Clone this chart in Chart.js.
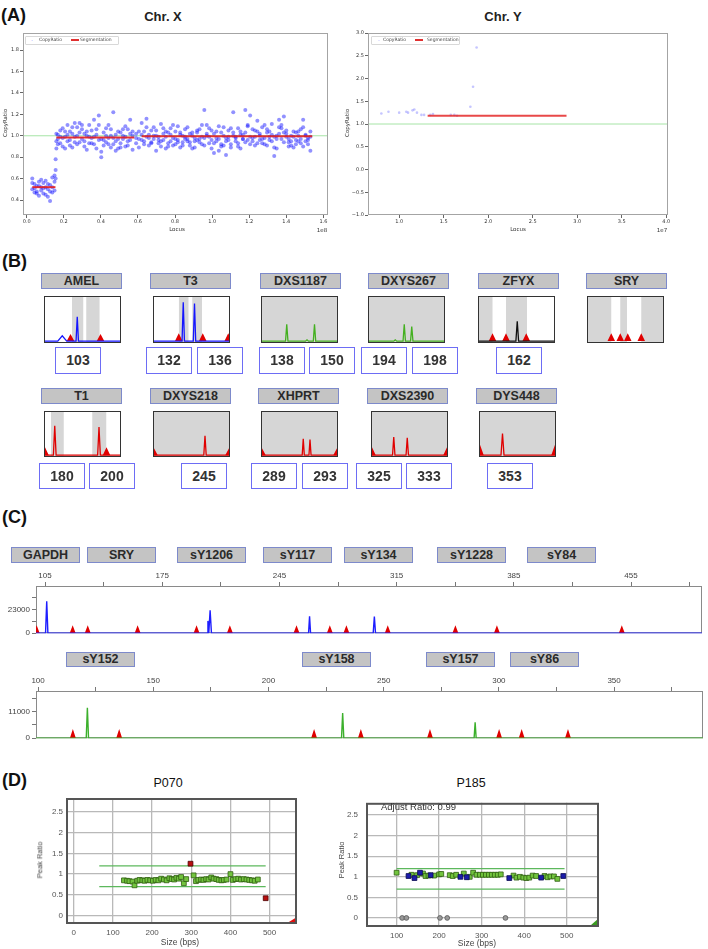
<!DOCTYPE html>
<html><head><meta charset="utf-8">
<script src="https://cdn.jsdelivr.net/npm/chart.js@4.4.1/dist/chart.umd.min.js"></script>
<style>
html,body{margin:0;padding:0;background:#fff;}
body{width:708px;height:949px;position:relative;overflow:hidden;font-family:"Liberation Sans",Arial,sans-serif;}
.lbl{position:absolute;box-sizing:border-box;background:#c4c4c4;border:1px solid #7d8acb;font-weight:bold;font-size:12.5px;color:#2a2a2a;text-align:center;}
.num{position:absolute;box-sizing:border-box;background:#fff;border:1.5px solid #6d6df5;font-weight:bold;font-size:14px;color:#333;text-align:center;}
.box{position:absolute;box-sizing:border-box;border:1.5px solid #333;background:transparent;}
</style></head><body>
<script>
// ================= DATA =================
// Panel A – Chr. X copy ratio (locus in Mb, ratio x100, three read-outs per locus)
const chrXLocusMb = [
 3.0,4.2,5.4,6.6,7.8,9.0,10.2,11.4,12.6,13.8,15.0,
 15.6,16.0,
 16.8,18.1,19.4,20.7,22.0,23.3,24.6,25.9,27.2,28.5,29.8,31.1,32.4,33.7,35.0,36.3,37.6,38.9,40.2,41.5,42.8,44.1,45.4,46.7,48.0,49.3,50.6,51.9,53.2,54.5,55.8,57.1,
 59.0,60.5,
 62.0,63.3,64.6,65.9,67.2,68.5,69.8,71.1,72.4,73.7,75.0,76.3,77.6,78.9,80.2,81.5,82.8,84.1,85.4,86.7,88.0,89.3,90.6,91.9,93.2,94.5,95.8,97.1,98.4,99.7,
 101.0,102.3,103.6,104.9,106.2,107.5,108.8,110.1,111.4,112.7,114.0,115.3,116.6,117.9,119.2,120.5,121.8,123.1,124.4,125.7,127.0,128.3,129.6,130.9,132.2,133.5,
 134.8,136.1,137.4,138.7,140.0,141.3,142.6,143.9,145.2,146.5,147.8,149.1,150.4,151.7,153.0];
const chrXRatioPctA = [
 50,55,48,57,52,46,58,50,54,61,49,
 68,88,
 92,105,98,88,110,96,102,94,108,112,97,90,104,99,93,115,101,119,85,96,107,92,100,122,95,88,103,97,109,91,115,100,
 93,97,
 112,95,116,101,93,108,86,99,111,96,104,90,107,98,92,109,101,94,106,97,91,100,95,103,97,110,124,102,93,105,
 84,98,109,92,100,82,96,107,122,99,93,104,97,124,110,119,98,105,114,96,108,92,103,99,111,81,
 97,115,107,118,102,94,100,89,96,104,93,115,101,98,86];
const chrXRatioPctB = [
 56,47,53,44,59,51,45,55,48,52,57,
 78,95,
 101,93,107,99,95,104,89,112,100,94,106,102,87,110,98,92,106,96,80,103,94,110,89,98,86,104,93,100,90,106,96,87,
 102,89,
 96,104,99,91,105,97,100,93,95,102,88,103,95,91,104,96,89,100,97,108,94,103,89,96,106,92,98,110,99,88,
 102,95,86,103,91,98,105,89,100,95,107,88,101,103,96,92,106,99,93,102,97,110,91,104,95,99,
 88,102,110,94,105,97,91,99,103,95,106,90,100,96,104];
const chrXRatioPctC = [
 60,51,46,53,49,56,52,43,39,47,63,
 60,102,
 97,99,90,104,101,91,108,99,92,103,110,95,100,93,105,99,88,110,97,91,100,98,106,92,101,97,89,106,99,95,102,104,
 98,104,
 101,92,108,98,94,100,105,96,90,107,99,93,101,110,97,94,103,91,99,95,102,88,98,105,94,99,91,100,107,96,
 93,104,97,90,108,95,99,92,103,98,90,101,97,94,109,99,95,91,104,100,93,98,106,96,101,89,
 100,108,97,103,99,90,95,104,92,100,97,108,95,92,99];
const chrXSegStart = [3, 16, 62];
const chrXSegEnd   = [15.5, 58, 154];
const chrXSegValue = [0.52, 0.985, 0.995];
const aXTicks = [0,20,40,60,80,100,120,140,160];
const aXYTicks = [0.4,0.6,0.8,1.0,1.2,1.4,1.6,1.8];

// Panel A – Chr. Y (locus in Mb)
const chrYLocusMb = [8.0,8.8,10.0,10.8,11.0,11.5,11.7,12.0,12.5,12.8,13.5,13.8,15.8,16.2,16.5,18.0,18.3,18.7];
const chrYRatio   = [1.23,1.27,1.25,1.27,1.25,1.30,1.32,1.25,1.20,1.20,1.20,1.22,1.20,1.20,1.18,1.38,1.82,2.68];
const chrYSegStart = [13.2], chrYSegEnd = [28.8], chrYSegValue = [1.18];
const aYXTicks = [10,15,20,25,30,35,40];
const aYYTicks = [-1,-0.5,0,0.5,1,1.5,2,2.5,3];

// Panel B – STR markers (positions and heights in % of each window)
const bMarkers = ['AMEL','T3','DXS1187','DXYS267','ZFYX','SRY','T1','DXYS218','XHPRT','DXS2390','DYS448'];
const bAlleles = [[103],[132,136],[138,150],[194,198],[162],[],[180,200],[245],[289,293],[325,333],[353]];
const bPeakPos    = [[23,43],[39,54],[33,60,70],[35,47,57],[51],[],[13,72],[68],[55,64],[29,47],[30]];
const bPeakHeight = [[12,55],[88,85],[38,3,38],[3,38,33],[45],[],[68,65],[45],[38,36],[42,40],[50]];
const bPeakWidth  = [[6,1.6],[1.6,1.6],[1.6,2,1.6],[2,1.6,1.6],[1.8],[],[1.8,1.8],[1.6],[1.4,1.4],[1.6,1.6],[2]];
const bTriangles  = [[34,74],[33,65,99],[],[],[18,36,63],[31,43,53,71],[0,82],[0,100],[0,100],[0,100],[0,100]];
const bTriHeight  = [16,18,0,0,18,18,18,16,16,18,24];
const bBands = [[[36,51],[55,73]],[[33,46],[51,64]],[[0,100]],[[0,100]],[[0,18],[36,64]],[[0,31],[43,52],[71,100]],
                [[8,25],[63,82]],[[0,100]],[[0,100]],[[0,100]],[[0,100]]];
const bTraceColor = ['#1515ff','#1515ff','#44b020','#44b020','#111111','#111111','#e00000','#e00000','#e00000','#e00000','#e00000'];

// Panel C – Y-chromosome microdeletion (size in bp, height in RFU)
const cLoci1 = ['GAPDH','SRY','sY1206','sY117','sY134','sY1228','sY84'];
const cLoci2 = ['sY152','sY158','sY157','sY86'];
const cXTicks1 = [105,140,175,210,245,280,315,350,385,420,455,490];
const cXLabels1 = [105,175,245,315,385,455];
const cYTicks1 = [0,11500,23000,34500];
const cYLabels1 = [0,23000];
const cPeakPos1 = [106,202.3,203.6,263,301.7];
const cPeakHeight1 = [31000,12000,22300,16600,16300];
const cPeakWidth1 = [0.7,0.5,0.8,0.6,0.7];
const cSizeStd1 = [100.0,121.5,130.5,160.3,195.5,215.4,255.2,275.1,285.0,309.7,350.1,374.9,449.5];
const cXTicks2 = [100,125,150,175,200,225,250,275,300,325,350,375];
const cXLabels2 = [100,150,200,250,300,350];
const cYTicks2 = [0,5500,11000,16500];
const cYLabels2 = [0,11000];
const cPeakPos2 = [121.4,232.2,289.7];
const cPeakHeight2 = [12600,10350,6600];
const cPeakWidth2 = [0.5,0.5,0.45];
const cSizeStd2 = [115.1,135.2,219.8,240.1,270.1,300.1,309.9,330.0];

// Panel D – MLPA peak ratios
const dThresholds = [0.7, 1.2];
const dXTicks1 = [0,100,200,300,400,500];
const dXTicks2 = [100,200,300,400,500];
const dYTicks = [0,0.5,1,1.5,2,2.5];
const p070Size  = [128,136,142,150,155,162,168,175,181,188,195,202,209,216,223,230,237,244,250,256,262,268,274,281,287,306,312,318,325,331,338,344,351,357,364,370,377,383,390,400,406,413,420,427,434,441,448,455,462,470];
const p070Ratio = [0.85,0.84,0.83,0.82,0.73,0.84,0.86,0.85,0.84,0.86,0.85,0.84,0.86,0.85,0.89,0.87,0.85,0.9,0.88,0.87,0.91,0.89,0.93,0.78,0.88,0.97,0.83,0.86,0.87,0.86,0.88,0.87,0.92,0.89,0.88,0.86,0.85,0.86,0.87,1.0,0.86,0.88,0.89,0.87,0.88,0.87,0.86,0.85,0.84,0.87];
const p070OutSize = [298,490];
const p070OutRatio = [1.25,0.42];
const p185Size  = [100,135,148,162,168,175,188,200,205,225,232,240,258,272,280,288,296,303,310,317,324,331,338,345,375,382,390,398,405,412,420,428,448,455,462,470,478];
const p185Ratio = [1.1,1.05,1.04,1.08,1.02,1.03,1.03,1.06,1.07,1.04,1.02,1.05,1.08,1.0,1.1,1.05,1.05,1.05,1.05,1.05,1.05,1.05,1.05,1.06,1.03,0.98,1.0,0.98,0.97,0.98,1.03,1.02,1.02,0.99,1.01,1.01,0.95];
const p185RefSize  = [128,142,155,180,250,265,365,440,492];
const p185RefRatio = [1.02,0.97,1.1,1.04,1.0,0.99,0.97,0.98,1.02];
const p185ZeroSize  = [113,123,202,219,356];
const p185ZeroRatio = [0,0,0,0,0];

// ================= HELPERS =================
const FONT = '"Liberation Sans", Arial, sans-serif';
const DV = '"DejaVu Sans", sans-serif';
Chart.defaults.font.family = FONT;
const body = document.body;

function txt(s, x, y, o = {}) {
  const d = document.createElement('div'); d.textContent = s; const st = d.style;
  st.position = 'absolute'; st.left = x + 'px'; st.top = y + 'px'; st.whiteSpace = 'nowrap';
  st.fontFamily = o.family || FONT; st.fontSize = (o.size || 10) + 'px';
  st.fontWeight = o.bold ? 'bold' : 'normal'; st.color = o.color || '#222'; st.lineHeight = '1';
  const ax = o.align === 'left' ? '0' : (o.align === 'right' ? '-100%' : '-50%');
  st.transform = `translate(${ax},-50%)` + (o.rot ? ` rotate(${o.rot}deg)` : '');
  body.appendChild(d); return d;
}
function rect(x, y, w, h, cls, text) {
  const d = document.createElement('div'); d.className = cls;
  Object.assign(d.style, {left: x + 'px', top: y + 'px', width: w + 'px', height: h + 'px', lineHeight: (h - 2) + 'px'});
  d.textContent = text || ''; body.appendChild(d); return d;
}
function cnv(x, y, w, h) {
  const c = document.createElement('canvas'); c.width = w; c.height = h;
  Object.assign(c.style, {position: 'absolute', left: x + 'px', top: y + 'px', width: w + 'px', height: h + 'px'});
  body.appendChild(c); return c;
}
function drawFrame(chart, o) {
  const a = chart.chartArea, ctx = chart.ctx, w = o.width || 1;
  ctx.save(); ctx.strokeStyle = o.color; ctx.lineWidth = w;
  ctx.strokeRect(a.left + w / 2, a.top + w / 2, a.right - a.left - w, a.bottom - a.top - w);
  ctx.restore();
}
const framePlugin = {
  id: 'frame',
  beforeDatasetsDraw(chart, args, o) { if (o && o.color && o.before) drawFrame(chart, o); },
  afterDatasetsDraw(chart, args, o) { if (o && o.color && !o.before) drawFrame(chart, o); }
};
function axis(o) {
  const vertical = o.pos === 'left' || o.pos === 'right';
  return {
    type: 'linear', position: o.pos, min: o.min, max: o.max, display: o.display !== false,
    afterBuildTicks: s => { s.ticks = o.ticks.map(v => ({value: v})); },
    afterFit: s => { if (vertical) s.width = o.fit; else s.height = o.fit; },
    ticks: {autoSkip: false, maxRotation: 0, minRotation: 0, padding: o.pad ?? 2,
      font: {family: o.family || FONT, size: o.size || 7}, color: o.color || '#333',
      callback: o.fmt || (v => String(v))},
    grid: {display: true, drawOnChartArea: !!o.gridOn, drawTicks: (o.tickLen || 0) > 0, tickLength: o.tickLen || 0,
      color: o.gridColor || '#666', lineWidth: o.gridWidth || 1, tickColor: o.tickColor || '#666'},
    border: {display: false}
  };
}
function opts(p) {
  return {
    responsive: false, animation: false, devicePixelRatio: 1, events: [],
    layout: {padding: p.pad},
    elements: {point: {radius: 0, hoverRadius: 0}, line: {tension: 0}},
    plugins: {legend: {display: false}, tooltip: {enabled: false}, title: {display: false}, frame: p.frame || {}},
    scales: {x: p.x, y: p.y}
  };
}
function spikes(pos, hts, wid, x0, x1) {
  const idx = pos.map((p, i) => i).sort((a, b) => pos[a] - pos[b]);
  const pts = [{x: x0, y: 0}];
  idx.forEach(i => { const w = Array.isArray(wid) ? wid[i] : wid;
    pts.push({x: pos[i] - w, y: 0}, {x: pos[i], y: hts[i]}, {x: pos[i] + w, y: 0}); });
  pts.push({x: x1, y: 0}); return pts;
}
function bandPts(list, lo, hi) {
  const pts = []; list.forEach(([a, b]) => pts.push({x: a, y: lo}, {x: a, y: hi}, {x: b, y: hi}, {x: b, y: lo})); return pts;
}
const mkChart = (c, datasets, o) => new Chart(c, {type: 'line', data: {datasets}, options: o, plugins: [framePlugin]});

// ================= PANEL A =================
txt('(A)', 1, 15, {size: 18, bold: true, align: 'left', color: '#111'});
txt('Chr. X', 163, 16, {size: 13, bold: true});
txt('Chr. Y', 503, 16, {size: 13, bold: true});

const chrXPts = chrXLocusMb.flatMap((x, i) => [
  {x, y: chrXRatioPctA[i] / 100}, {x, y: chrXRatioPctB[i] / 100}, {x, y: chrXRatioPctC[i] / 100}]);
mkChart(cnv(0, 28, 340, 215), [
  ...chrXSegStart.map((s, i) => ({data: [{x: s, y: chrXSegValue[i]}, {x: chrXSegEnd[i], y: chrXSegValue[i]}],
    borderColor: 'rgba(228,30,30,0.9)', borderWidth: 2, order: 0})),
  {data: chrXPts, showLine: false, pointRadius: 2.0, pointBackgroundColor: 'rgba(10,10,255,0.45)', pointBorderWidth: 0, order: 1},
  {data: [{x: -2, y: 1}, {x: 162.5, y: 1}], borderColor: '#a6e4a6', borderWidth: 1, order: 2}
], opts({pad: {left: 0, top: 5, right: 12, bottom: 0}, frame: {color: '#a4a4a4', width: 1},
  x: axis({pos: 'bottom', min: -2, max: 162.5, ticks: aXTicks, fmt: v => (v / 100).toFixed(1), fit: 28, size: 5, tickLen: 3, pad: 1, family: DV}),
  y: axis({pos: 'left', min: 0.26, max: 1.96, ticks: aXYTicks, fmt: v => v.toFixed(1), fit: 23, size: 5, tickLen: 3, pad: 1, family: DV})}));

const chrYPts = chrYLocusMb.map((x, i) => ({x, y: chrYRatio[i]}));
mkChart(cnv(340, 28, 368, 215), [
  ...chrYSegStart.map((s, i) => ({data: [{x: s, y: chrYSegValue[i]}, {x: chrYSegEnd[i], y: chrYSegValue[i]}],
    borderColor: 'rgba(228,40,40,0.85)', borderWidth: 2, order: 0})),
  {data: chrYPts, showLine: false, pointRadius: 1.3, pointBackgroundColor: 'rgba(90,90,255,0.35)', pointBorderWidth: 0, order: 1},
  {data: [{x: 6.5, y: 1}, {x: 40.2, y: 1}], borderColor: '#a6e4a6', borderWidth: 1, order: 2}
], opts({pad: {left: 0, top: 5, right: 40, bottom: 0}, frame: {color: '#a4a4a4', width: 1},
  x: axis({pos: 'bottom', min: 6.5, max: 40.2, ticks: aYXTicks, fmt: v => (v / 10).toFixed(1), fit: 28, size: 5, tickLen: 3, pad: 1, family: DV}),
  y: axis({pos: 'left', min: -1, max: 3, ticks: aYYTicks, fmt: v => v.toFixed(1).replace('-', '\u2212'), fit: 28, size: 5, tickLen: 3, pad: 1, family: DV})}));

// axis titles / legends (panel A)
txt('CopyRatio', 6, 123, {size: 5.5, rot: -90, family: DV, color: '#333'});
txt('Locus', 177, 230, {size: 5.5, family: DV, color: '#333'});
txt('1e8', 322, 231, {size: 5.5, family: DV, color: '#333'});
txt('CopyRatio', 348, 123, {size: 5.5, rot: -90, family: DV, color: '#333'});
txt('Locus', 518, 230, {size: 5.5, family: DV, color: '#333'});
txt('1e7', 662, 231, {size: 5.5, family: DV, color: '#333'});
function legendA(x0, dotX, t1X, lineX, t2X, w) {
  const b = document.createElement('div');
  Object.assign(b.style, {position: 'absolute', left: x0 + 'px', top: '36px', width: w + 'px', height: '7px', border: '0.5px solid #d8d8d8', borderRadius: '1px', background: '#fff'});
  body.appendChild(b);
  txt('\u00b7', dotX, 39.5, {size: 6, color: '#5555ff'});
  txt('CopyRatio', t1X, 39.5, {size: 4.5, align: 'left', family: DV, color: '#444'});
  const l = document.createElement('div');
  Object.assign(l.style, {position: 'absolute', left: lineX + 'px', top: '39px', width: '8px', height: '1.5px', background: '#e03030'});
  body.appendChild(l);
  txt('Segmentation', t2X, 39.5, {size: 4.5, align: 'left', family: DV, color: '#444'});
}
legendA(25, 32, 39, 71, 80, 92);
legendA(371, 379, 383, 415, 427, 87);

// ================= PANEL B =================
txt('(B)', 2, 261, {size: 18, bold: true, align: 'left', color: '#111'});
const bBoxX = [44,153,261,368,478,587, 44,153,261,371,479];
const bBoxY = [296,296,296,296,296,296, 411,411,411,411,411];
const bBoxH = [47,47,47,47,47,47, 46,46,46,46,46];
const bLabelX = [41,150,260,368,478,586, 41,150,258,367,476];
const bLabelY = [273,273,273,273,273,273, 388,388,388,388,388];
const bNumX = [[55],[146,197],[259,309],[361,412],[496],[],[39,89],[181],[251,302],[356,406],[487]];
const bNumY = [347,347,347,347,347,347, 463,463,463,463,463];

bMarkers.forEach((m, i) => {
  rect(bLabelX[i], bLabelY[i], 81, 16, 'lbl', m);
  const x = bBoxX[i], y = bBoxY[i], w = 77, h = bBoxH[i];
  const ds = [];
  if (bPeakPos[i].length) ds.push({data: spikes(bPeakPos[i], bPeakHeight[i], bPeakWidth[i], -10, 110),
    borderColor: bTraceColor[i], borderWidth: 1.3, order: 0});
  if (bTriangles[i].length) ds.push({data: spikes(bTriangles[i], bTriangles[i].map(() => bTriHeight[i]), 5, -10, 110),
    borderColor: 'rgba(0,0,0,0)', borderWidth: 0, fill: 'origin', backgroundColor: '#e00000', order: 1});
  ds.push({data: bandPts(bBands[i], -2, 100), borderColor: 'rgba(0,0,0,0)', borderWidth: 0, fill: 'start', backgroundColor: '#d6d6d6', order: 2});
  mkChart(cnv(x + 1, y + 1, w - 2, h - 2), ds, opts({pad: {left: 0, right: 0, top: 0, bottom: 0},
    x: {type: 'linear', min: 0, max: 100, display: false}, y: {type: 'linear', min: -2, max: 100, display: false}}));
  rect(x, y, w, h, 'box');
  bAlleles[i].forEach((a, k) => rect(bNumX[i][k], bNumY[i], 46, bNumY[i] === 347 ? 27 : 26, 'num', String(a)));
});

// ================= PANEL C =================
txt('(C)', 2, 517, {size: 18, bold: true, align: 'left', color: '#111'});
const cLabelX1 = [11,87,177,263,344,437,527];
const cLabelX2 = [66,302,426,510];
cLoci1.forEach((m, i) => rect(cLabelX1[i], 547, 69, 16, 'lbl', m));
cLoci2.forEach((m, i) => rect(cLabelX2[i], 652, 69, 15, 'lbl', m));

function cChart(top, rightPad, xmin, xmax, xt, xl, ymax, yt, yl, pos, hts, wids, stds, triH, triW, col) {
  mkChart(cnv(0, top, 708, 72), [
    {data: spikes(pos, hts, wids, xmin - 5, xmax + 5), borderColor: col, borderWidth: 1.4, order: 0},
    {data: spikes(stds, stds.map(() => triH), triW, xmin - 5, xmax + 5), borderColor: 'rgba(0,0,0,0)', borderWidth: 0,
      fill: 'origin', backgroundColor: '#e00000', order: 1}
  ], opts({pad: {left: 0, right: rightPad, top: 0, bottom: 6}, frame: {color: '#8a8a8a', width: 1, before: true},
    x: axis({pos: 'top', min: xmin, max: xmax, ticks: xt, fmt: v => xl.includes(v) ? String(v) : '', fit: 18, size: 8, tickLen: 4, pad: 1, color: '#444', tickColor: '#777'}),
    y: axis({pos: 'left', min: 0, max: ymax, ticks: yt, fmt: v => yl.includes(v) ? String(v) : '', fit: 36, size: 8, tickLen: 4, pad: 2, color: '#444', tickColor: '#777'})}));
}
cChart(568, 6, 99.6, 497.4, cXTicks1, cXLabels1, 46000, cYTicks1, cYLabels1, cPeakPos1, cPeakHeight1, cPeakWidth1, cSizeStd1, 7700, 1.8, '#1e1eff');
cChart(673, 5, 99.1, 388.6, cXTicks2, cXLabels2, 19500, cYTicks2, cYLabels2, cPeakPos2, cPeakHeight2, cPeakWidth2, cSizeStd2, 3800, 1.3, '#3cb02c');

// ================= PANEL D =================
txt('(D)', 2, 780, {size: 18, bold: true, align: 'left', color: '#111'});
txt('P070', 168, 783, {size: 12.5, color: '#111'});
txt('P185', 471, 783, {size: 12.5, color: '#111'});
const sq = (bg, bd) => ({showLine: false, pointStyle: 'rect', pointRadius: 3.4, pointBackgroundColor: bg, pointBorderColor: bd, pointBorderWidth: 0.8});
function dAxisX(min, max, ticks, fit) { return axis({pos: 'bottom', min, max, ticks, fit, size: 8, pad: 4, gridOn: true, gridColor: '#b9b9b9', gridWidth: 1.3, color: '#555'}); }
function dAxisY(min, max, pad) { return axis({pos: 'left', min, max, ticks: dYTicks, fit: 36, size: 8, pad, gridOn: true, gridColor: '#b9b9b9', gridWidth: 1.3, color: '#555'}); }

mkChart(cnv(30, 790, 280, 159), [
  {data: p070OutSize.map((x, i) => ({x, y: p070OutRatio[i]})), ...sq('#b81010', '#4a0000'), order: 0},
  {data: p070Size.map((x, i) => ({x, y: p070Ratio[i]})), ...sq('#72c43e', '#2e5e10'), order: 1},
  ...dThresholds.map(t => ({data: [{x: 65, y: t}, {x: 490, y: t}], borderColor: '#5cb85c', borderWidth: 1.2, order: 2})),
  {data: [{x: 541, y: -0.2}, {x: 570, y: -0.03}], borderColor: 'rgba(0,0,0,0)', borderWidth: 0, fill: 'start', backgroundColor: '#e01010', order: 3}
], opts({pad: {left: 0, right: 13, top: 8, bottom: 0}, frame: {color: '#555', width: 2},
  x: dAxisX(-20, 570, dXTicks1, 25), y: dAxisY(-0.2, 2.83, 3)}));

mkChart(cnv(330, 790, 280, 159), [
  {data: p185RefSize.map((x, i) => ({x, y: p185RefRatio[i]})), ...sq('#1c1caa', '#0a0a50'), order: 0},
  {data: p185Size.map((x, i) => ({x, y: p185Ratio[i]})), ...sq('#72c43e', '#2e5e10'), order: 1},
  {data: p185ZeroSize.map((x, i) => ({x, y: p185ZeroRatio[i]})), showLine: false, pointStyle: 'circle', pointRadius: 2.4,
    pointBackgroundColor: '#9a9a9a', pointBorderColor: '#555', pointBorderWidth: 0.8, order: 1},
  ...dThresholds.map(t => ({data: [{x: 100, y: t}, {x: 495, y: t}], borderColor: '#5cb85c', borderWidth: 1.2, order: 2})),
  {data: [{x: 552, y: -0.22}, {x: 576, y: 0.0}], borderColor: 'rgba(0,0,0,0)', borderWidth: 0, fill: 'start', backgroundColor: '#3a9a20', order: 3}
], opts({pad: {left: 0, right: 11, top: 8, bottom: 0}, frame: {color: '#555', width: 2},
  x: dAxisX(28, 576, dXTicks2, 22), y: dAxisY(-0.22, 2.8, 8)}));

txt('Peak Ratio', 40, 860, {size: 7.5, rot: -90, color: '#444'});
txt('Peak Ratio', 342, 860, {size: 7.5, rot: -90, color: '#444'});
txt('Size (bps)', 180, 942, {size: 8.5, color: '#444'});
txt('Size (bps)', 477, 943, {size: 8.5, color: '#444'});
txt('Adjust Ratio: 0.99', 381, 807, {size: 9.5, align: 'left', color: '#333'});
</script></body></html>
